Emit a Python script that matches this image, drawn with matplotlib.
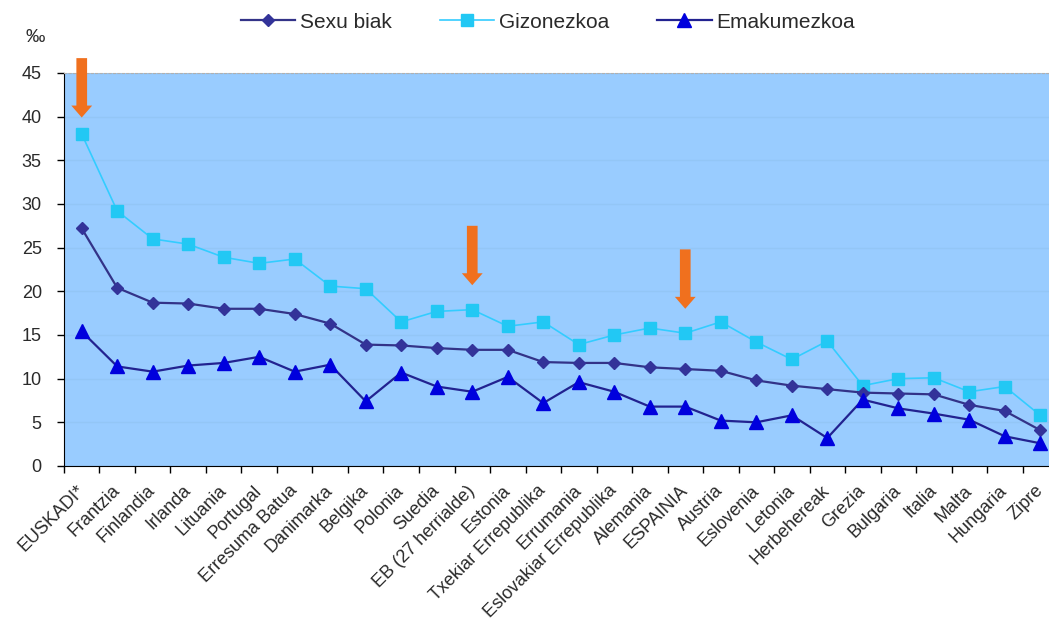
import numpy as np
import matplotlib
matplotlib.use('Agg')
import matplotlib.pyplot as plt
import matplotlib.transforms as mtransforms

# Heriotza-tasa (‰) herrialdeka
categories = ['EUSKADI*', 'Frantzia', 'Finlandia', 'Irlanda', 'Lituania', 'Portugal',
              'Erresuma Batua', 'Danimarka', 'Belgika', 'Polonia', 'Suedia',
              'EB (27 herrialde)', 'Estonia', 'Txekiar Errepublika', 'Errumania',
              'Eslovakiar Errepublika', 'Alemania', 'ESPAINIA', 'Austria', 'Eslovenia',
              'Letonia', 'Herbehereak', 'Grezia', 'Bulgaria', 'Italia', 'Malta',
              'Hungaria', 'Zipre']

sexu_biak = [27.2, 20.4, 18.7, 18.6, 18.0, 18.0, 17.4, 16.3, 13.9, 13.8, 13.5, 13.3, 13.3, 11.9,
             11.8, 11.8, 11.3, 11.1, 10.9, 9.8, 9.2, 8.8, 8.4, 8.3, 8.2, 7.0, 6.3, 4.1]
gizonezkoa = [38.0, 29.2, 26.0, 25.4, 23.9, 23.2, 23.7, 20.6, 20.3, 16.5, 17.7, 17.9, 16.0, 16.5,
              13.9, 15.0, 15.8, 15.2, 16.5, 14.2, 12.2, 14.3, 9.2, 10.0, 10.1, 8.5, 9.1, 5.8]
emakumezkoa = [15.4, 11.4, 10.8, 11.5, 11.8, 12.5, 10.8, 11.6, 7.4, 10.7, 9.1, 8.5, 10.2, 7.2,
               9.6, 8.5, 6.8, 6.8, 5.2, 5.0, 5.8, 3.2, 7.6, 6.6, 6.0, 5.3, 3.4, 2.6]

# geziak: zein herrialde nabarmendu eta gezi-puntaren balioa
arrow_cats = ['EUSKADI*', 'EB (27 herrialde)', 'ESPAINIA']
arrow_tips = [39.9, 20.7, 18.0]
arrow_len = 6.8

plt.rcParams['font.family'] = ['Liberation Sans', 'DejaVu Sans']
text_col = '#2a2a2a'

fig = plt.figure(figsize=(10.49, 6.34), dpi=100)
ax = fig.add_axes([0.061, 0.265, 0.9476, 0.6199])
ax.set_facecolor('#99ccff')

x = np.arange(len(categories))

ax.plot(x, sexu_biak, color='#333388', lw=1.6, marker='D', ms=6.5,
        mfc='#333399', mec='#333399', label='Sexu biak', zorder=4)
ax.plot(x, gizonezkoa, color='#33ccff', lw=1.2, marker='s', ms=9,
        mfc='#22c8f4', mec='#22c8f4', label='Gizonezkoa', zorder=3)
ax.plot(x, emakumezkoa, color='#222290', lw=1.6, marker='^', ms=10,
        mfc='#0000dd', mec='#0000dd', label='Emakumezkoa', zorder=5)

for cat, tip in zip(arrow_cats, arrow_tips):
    i = categories.index(cat)
    ax.annotate('', xy=(i, tip), xytext=(i, tip + arrow_len),
                arrowprops=dict(arrowstyle='simple,head_length=0.86,head_width=1.5,tail_width=0.77',
                                mutation_scale=10, color='#f0701e', lw=0,
                                shrinkA=0, shrinkB=0),
                annotation_clip=False, zorder=6)

ax.set_xlim(-0.5, len(categories) - 0.5)
ax.set_ylim(0, 45)
ax.set_yticks(np.arange(0, 50, 5))
ax.grid(axis='y', color='#93c6f6', lw=1)
ax.set_axisbelow(True)

ax.set_xticks(x)
ax.set_xticklabels(categories, rotation=45, ha='right', va='center',
                   rotation_mode='anchor', fontsize=13, color=text_col)
# etiketak pixka bat eskuinera
shift = mtransforms.ScaledTranslation(4 / 100, 0, fig.dpi_scale_trans)
for lbl in ax.get_xticklabels():
    lbl.set_transform(lbl.get_transform() + shift)
ax.set_xticks(np.arange(-0.5, len(categories), 1), minor=True)
ax.tick_params(axis='x', which='major', length=0, pad=16)
ax.tick_params(axis='x', which='minor', length=5, width=1, color='black', direction='out')
ax.tick_params(axis='y', length=5, width=1, color='black', pad=11, labelsize=13,
               labelcolor=text_col)

ax.spines['right'].set_visible(False)
ax.spines['top'].set_color('#b0b0b0')
ax.spines['top'].set_linestyle((0, (2, 2)))
ax.spines['left'].set_color('black')
ax.spines['bottom'].set_color('black')

fig.text(35 / 1049, 1 - 38 / 634, '‰', fontsize=14, ha='center', va='center', color=text_col)

leg = fig.legend(loc='center', bbox_to_anchor=(548 / 1049, 1 - 22 / 634), ncol=3, frameon=False,
                 fontsize=15, handlelength=2.6, handletextpad=0.25, columnspacing=2.3)
for t in leg.get_texts():
    t.set_color(text_col)

fig.savefig('out.png', dpi=100)
